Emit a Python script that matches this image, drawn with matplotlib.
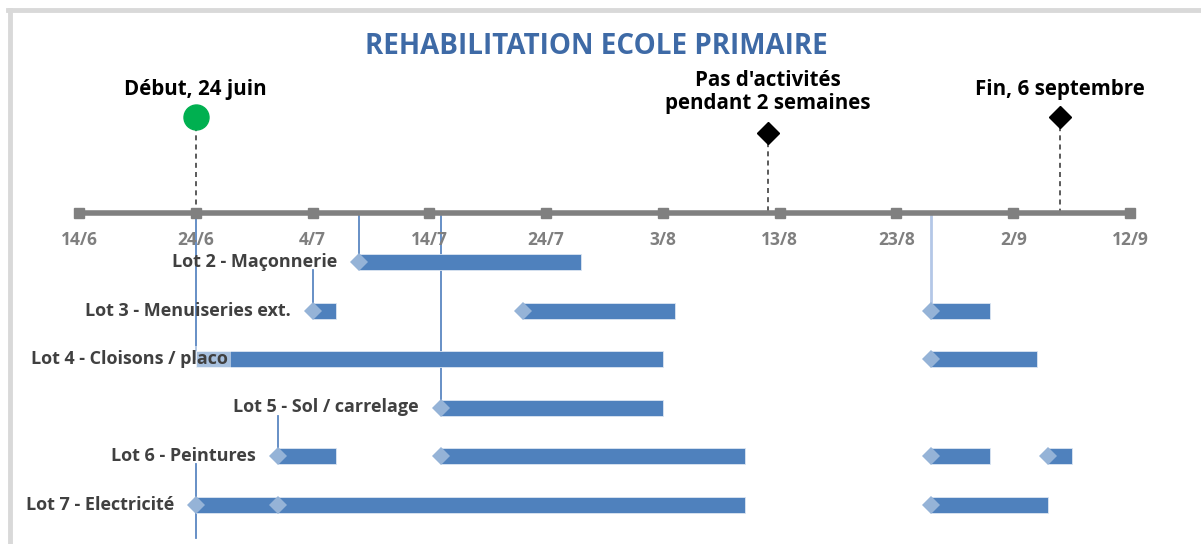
import matplotlib.pyplot as plt
import matplotlib.dates as mdates
from matplotlib.lines import Line2D
from datetime import datetime

# DATA
year = 2013
title = "REHABILITATION ECOLE PRIMAIRE"
tick_dates = ["14/6", "24/6", "4/7", "14/7", "24/7", "3/8", "13/8", "23/8", "2/9", "12/9"]

lot_names = ["Lot 2 - Maçonnerie", "Lot 3 - Menuiseries ext.", "Lot 4 - Cloisons / placo",
             "Lot 5 - Sol / carrelage", "Lot 6 - Peintures", "Lot 7 - Electricité"]
lot2 = [("8/7", "27/7")]
lot3 = [("4/7", "6/7"), ("22/7", "4/8"), ("26/8", "31/8")]
lot4 = [("24/6", "3/8"), ("26/8", "4/9")]
lot5 = [("15/7", "3/8")]
lot6 = [("1/7", "6/7"), ("15/7", "10/8"), ("26/8", "31/8"), ("5/9", "7/9")]
lot7 = [("24/6", "1/7"), ("1/7", "10/8"), ("26/8", "5/9")]
lots = [lot2, lot3, lot4, lot5, lot6, lot7]

milestone_labels = ["Début, 24 juin", "Pas d'activités\npendant 2 semaines", "Fin, 6 septembre"]
milestone_dates = ["24/6", "12/8", "6/9"]

# leader lines: date, from row (-1 = timeline), to row
leaders = [("8/7", -1, 0), ("15/7", -1, 3), ("26/8", -1, 1), ("4/7", 0, 1),
           ("1/7", 3, 4), ("24/6", -1, 2), ("24/6", 4, 5)]


def d(s):
    day, month = s.split("/")
    return mdates.date2num(datetime(year, int(month), int(day)))


def main():
    W, H = 1201, 544
    fig = plt.figure(figsize=(W / 100, H / 100), dpi=100)
    ax = fig.add_axes([0, 0, 1, 1])
    ax.axis("off")

    px_day = (1130 - 79) / 90.0
    x0 = d("14/6")
    ax.set_xlim(x0 - 79 / px_day, x0 + (W - 79) / px_day)
    ax.set_ylim(H, 0)

    axis_y = 213
    row_y = [262 + 48.5 * i for i in range(len(lots))]
    bar_h = 16
    blue = "#4f81bd"
    light = "#95b3d7"
    font = "Open Sans"

    # frame
    fig.add_artist(Line2D([10 / W, 10 / W], [0, 1 - 10 / H], color="#d9d9d9", lw=3.5))
    fig.add_artist(Line2D([8 / W, 1], [1 - 10 / H, 1 - 10 / H], color="#d9d9d9", lw=3.5))

    ax.text(x0 + (596 - 79) / px_day, 46, title, ha="center", va="center",
            fontsize=20, fontweight="bold", color="#3e6aa6", family=font)

    # timeline axis
    ax.plot([d("14/6"), d("12/9")], [axis_y, axis_y], color="#808080", lw=4, solid_capstyle="butt", zorder=3)
    for t in tick_dates:
        ax.plot(d(t), axis_y, marker="s", ms=6.5, color="#808080", zorder=3)
        ax.text(d(t), 240, t, ha="center", va="center", fontsize=12.5, fontweight="bold",
                color="#7f7f7f", family=font)

    # leader lines
    for date, r0, r1 in leaders:
        y0 = axis_y + 3 if r0 < 0 else row_y[r0] + 8
        y1 = row_y[r1] if r1 < len(lots) - 1 or r0 < 0 else row_y[r1] + 33
        col = "#b4c7e7" if date == "26/8" else "#5b87c2"
        lw = 2 if date == "26/8" else 1.3
        ax.plot([d(date), d(date)], [y0, y1], color=col, lw=lw, zorder=1)

    # milestones
    ypos = [117, 133, 117]
    for lbl, date, y in zip(milestone_labels, milestone_dates, ypos):
        ax.plot([d(date), d(date)], [y, axis_y], color="#404040", lw=1.2, ls=(0, (3, 2.5)), zorder=1)
        if date == "24/6":
            ax.plot(d(date), y, marker="o", ms=18, color="#00b050", zorder=4)
            ax.text(d(date), 90, lbl, ha="center", va="center", fontsize=14.8, fontweight="bold",
                    color="black", family=font)
        else:
            ax.plot(d(date), y, marker="D", ms=11.5, color="black", zorder=4)
            ax.text(d(date), 92 if "\n" in lbl else 90, lbl, ha="center", va="center", fontsize=14.8,
                    fontweight="bold", color="black", family=font, linespacing=1.12)

    # bars
    for i, (name, segs) in enumerate(zip(lot_names, lots)):
        y = row_y[i]
        for j, (s, e) in enumerate(segs):
            ax.barh(y, d(e) - d(s), left=d(s), height=bar_h, color=blue, edgecolor="#dce6f2",
                    lw=0.6, zorder=2)
            if not (i == 2 and j == 0):
                ax.plot(d(s), y, marker="D", ms=9.5, color=light, mew=0, zorder=3)
        first = d(segs[0][0])
        if i == 2:
            ax.text(d("27/6") - 3 / px_day, y, name, ha="right", va="center", fontsize=13,
                    fontweight="bold", color="#404040", family=font, zorder=5,
                    bbox=dict(boxstyle="square,pad=0.2", fc="white", ec="none", alpha=0.5))
        else:
            ax.text(first - 22 / px_day, y, name, ha="right", va="center", fontsize=13,
                    fontweight="bold", color="#404040", family=font, zorder=5)

    fig.savefig("out.png", dpi=100)


if __name__ == "__main__":
    main()
